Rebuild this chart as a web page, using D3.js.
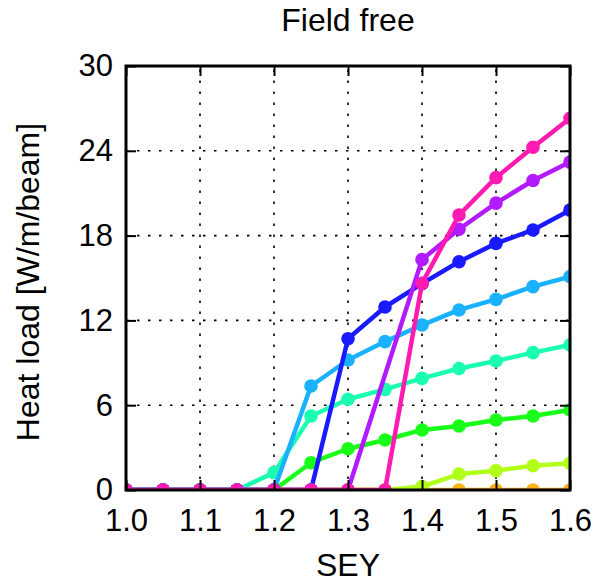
<!DOCTYPE html>
<html><head><meta charset="utf-8">
<script src="https://cdn.jsdelivr.net/npm/d3@7"></script>
<style>body{margin:0;background:#fff}svg{display:block}text{font-family:"Liberation Sans",Arial,sans-serif;fill:#000}</style>
</head><body><div id="chart"></div>
<script>
const sey = [1.0,1.05,1.1,1.15,1.2,1.25,1.3,1.35,1.4,1.45,1.5,1.55,1.6];
const xTicks = [1.0,1.1,1.2,1.3,1.4,1.5,1.6];
const yTicks = [0,6,12,18,24,30];
const seriesNames = ["s1","s2","s3","s4","s5","s6","s7","s8"];
const seriesColors = ["#ffb21a","#b2ff1a","#1aff1a","#1affb2","#1ab2ff","#1a1aff","#b21aff","#ff1ab2"];
const orange  = [0,0,0,0,0,0,0,0,0,0,0,0,0];
const yellow  = [0,0,0,0,0,0,0,0,0.24,1.13,1.37,1.72,1.89];
const green   = [0,0,0,0,0,1.93,2.92,3.54,4.25,4.53,4.95,5.24,5.66];
const teal    = [0,0,0,0,1.23,5.24,6.42,7.12,7.9,8.6,9.13,9.72,10.26];
const lblue   = [0,0,0,0,0,7.36,9.2,10.5,11.67,12.74,13.49,14.39,15.1];
const blue    = [0,0,0,0,0,0,10.7,12.95,14.6,16.15,17.45,18.4,19.8];
const purple  = [0,0,0,0,0,0,0,null,16.3,18.45,20.3,21.9,23.2];
const pink    = [0,0,0,0,0,0,0,0,14.62,19.46,22.1,24.25,26.3];
const seriesValues = [orange,yellow,green,teal,lblue,blue,purple,pink];

const W=606,H=585;
const m={l:126,r:36,t:66,b:95};
const svg=d3.select("#chart").append("svg").attr("width",W).attr("height",H);
const x=d3.scaleLinear().domain([1.0,1.6]).range([m.l,W-m.r]);
const y=d3.scaleLinear().domain([0,30]).range([H-m.b,m.t]);

svg.append("defs").append("clipPath").attr("id","clip").append("rect")
 .attr("x",x(1.0)).attr("y",y(30)).attr("width",x(1.6)-x(1.0)).attr("height",y(0)-y(30));

// grid
const g=svg.append("g");
g.selectAll(".gx").data(xTicks.slice(1,-1)).join("line")
 .attr("x1",d=>x(d)).attr("x2",d=>x(d)).attr("y1",y(0)).attr("y2",y(30))
 .attr("stroke","#000").attr("stroke-width",1.6).attr("stroke-dasharray","2.5,8.5");
g.selectAll(".gy").data(yTicks.slice(1,-1)).join("line")
 .attr("y1",d=>y(d)).attr("y2",d=>y(d)).attr("x1",x(1.0)).attr("x2",x(1.6))
 .attr("stroke","#000").attr("stroke-width",1.6).attr("stroke-dasharray","2.5,8.5");

// series
const plot=svg.append("g").attr("clip-path","url(#clip)");
const line=d3.line().x(d=>x(d[0])).y(d=>y(d[1]));
seriesValues.forEach((vals,i)=>{
  const pts=sey.map((s,j)=>[s,vals[j]]).filter(p=>p[1]!==null);
  const sg=plot.append("g").attr("class",seriesNames[i]);
  sg.append("path").datum(pts).attr("d",line).attr("fill","none")
    .attr("stroke",seriesColors[i]).attr("stroke-width",4.5).attr("stroke-linejoin","round");
  sg.selectAll("circle").data(pts).join("circle")
    .attr("cx",d=>x(d[0])).attr("cy",d=>y(d[1])).attr("r",6.8).attr("fill",seriesColors[i]);
});

// axes
const fmt=d3.format(".1f");
const ax=svg.append("g").attr("transform",`translate(0,${y(0)})`)
 .call(d3.axisBottom(x).tickValues(xTicks).tickFormat(fmt).tickSizeInner(-10).tickSizeOuter(0).tickPadding(19));
const ay=svg.append("g").attr("transform",`translate(${x(1.0)},0)`)
 .call(d3.axisLeft(y).tickValues(yTicks).tickSizeInner(-10).tickSizeOuter(0).tickPadding(13));
const at=svg.append("g").attr("transform",`translate(0,${y(30)})`)
 .call(d3.axisTop(x).tickValues(xTicks).tickFormat("").tickSizeInner(-10).tickSizeOuter(0));
const ar=svg.append("g").attr("transform",`translate(${x(1.6)},0)`)
 .call(d3.axisRight(y).tickValues(yTicks).tickFormat("").tickSizeInner(-10).tickSizeOuter(0));
[ax,ay,at,ar].forEach(a=>{
  a.select(".domain").remove();
  a.selectAll(".tick line").attr("stroke","#000").attr("stroke-width",2);
  a.selectAll("text").style("font-size","31px").attr("fill","#000");
});
svg.append("rect").attr("x",x(1.0)).attr("y",y(30)).attr("width",x(1.6)-x(1.0)).attr("height",y(0)-y(30))
 .attr("fill","none").attr("stroke","#000").attr("stroke-width",3);

// labels
svg.append("text").attr("x",(x(1.0)+x(1.6))/2).attr("y",576).attr("text-anchor","middle")
 .style("font-size","32px").text("SEY");
svg.append("text").attr("transform",`translate(39,${(y(0)+y(30))/2+4}) rotate(-90)`).attr("text-anchor","middle")
 .style("font-size","32px").text("Heat load [W/m/beam]");
svg.append("text").attr("x",(x(1.0)+x(1.6))/2).attr("y",31).attr("text-anchor","middle")
 .style("font-size","32px").text("Field free");
</script></body></html>
